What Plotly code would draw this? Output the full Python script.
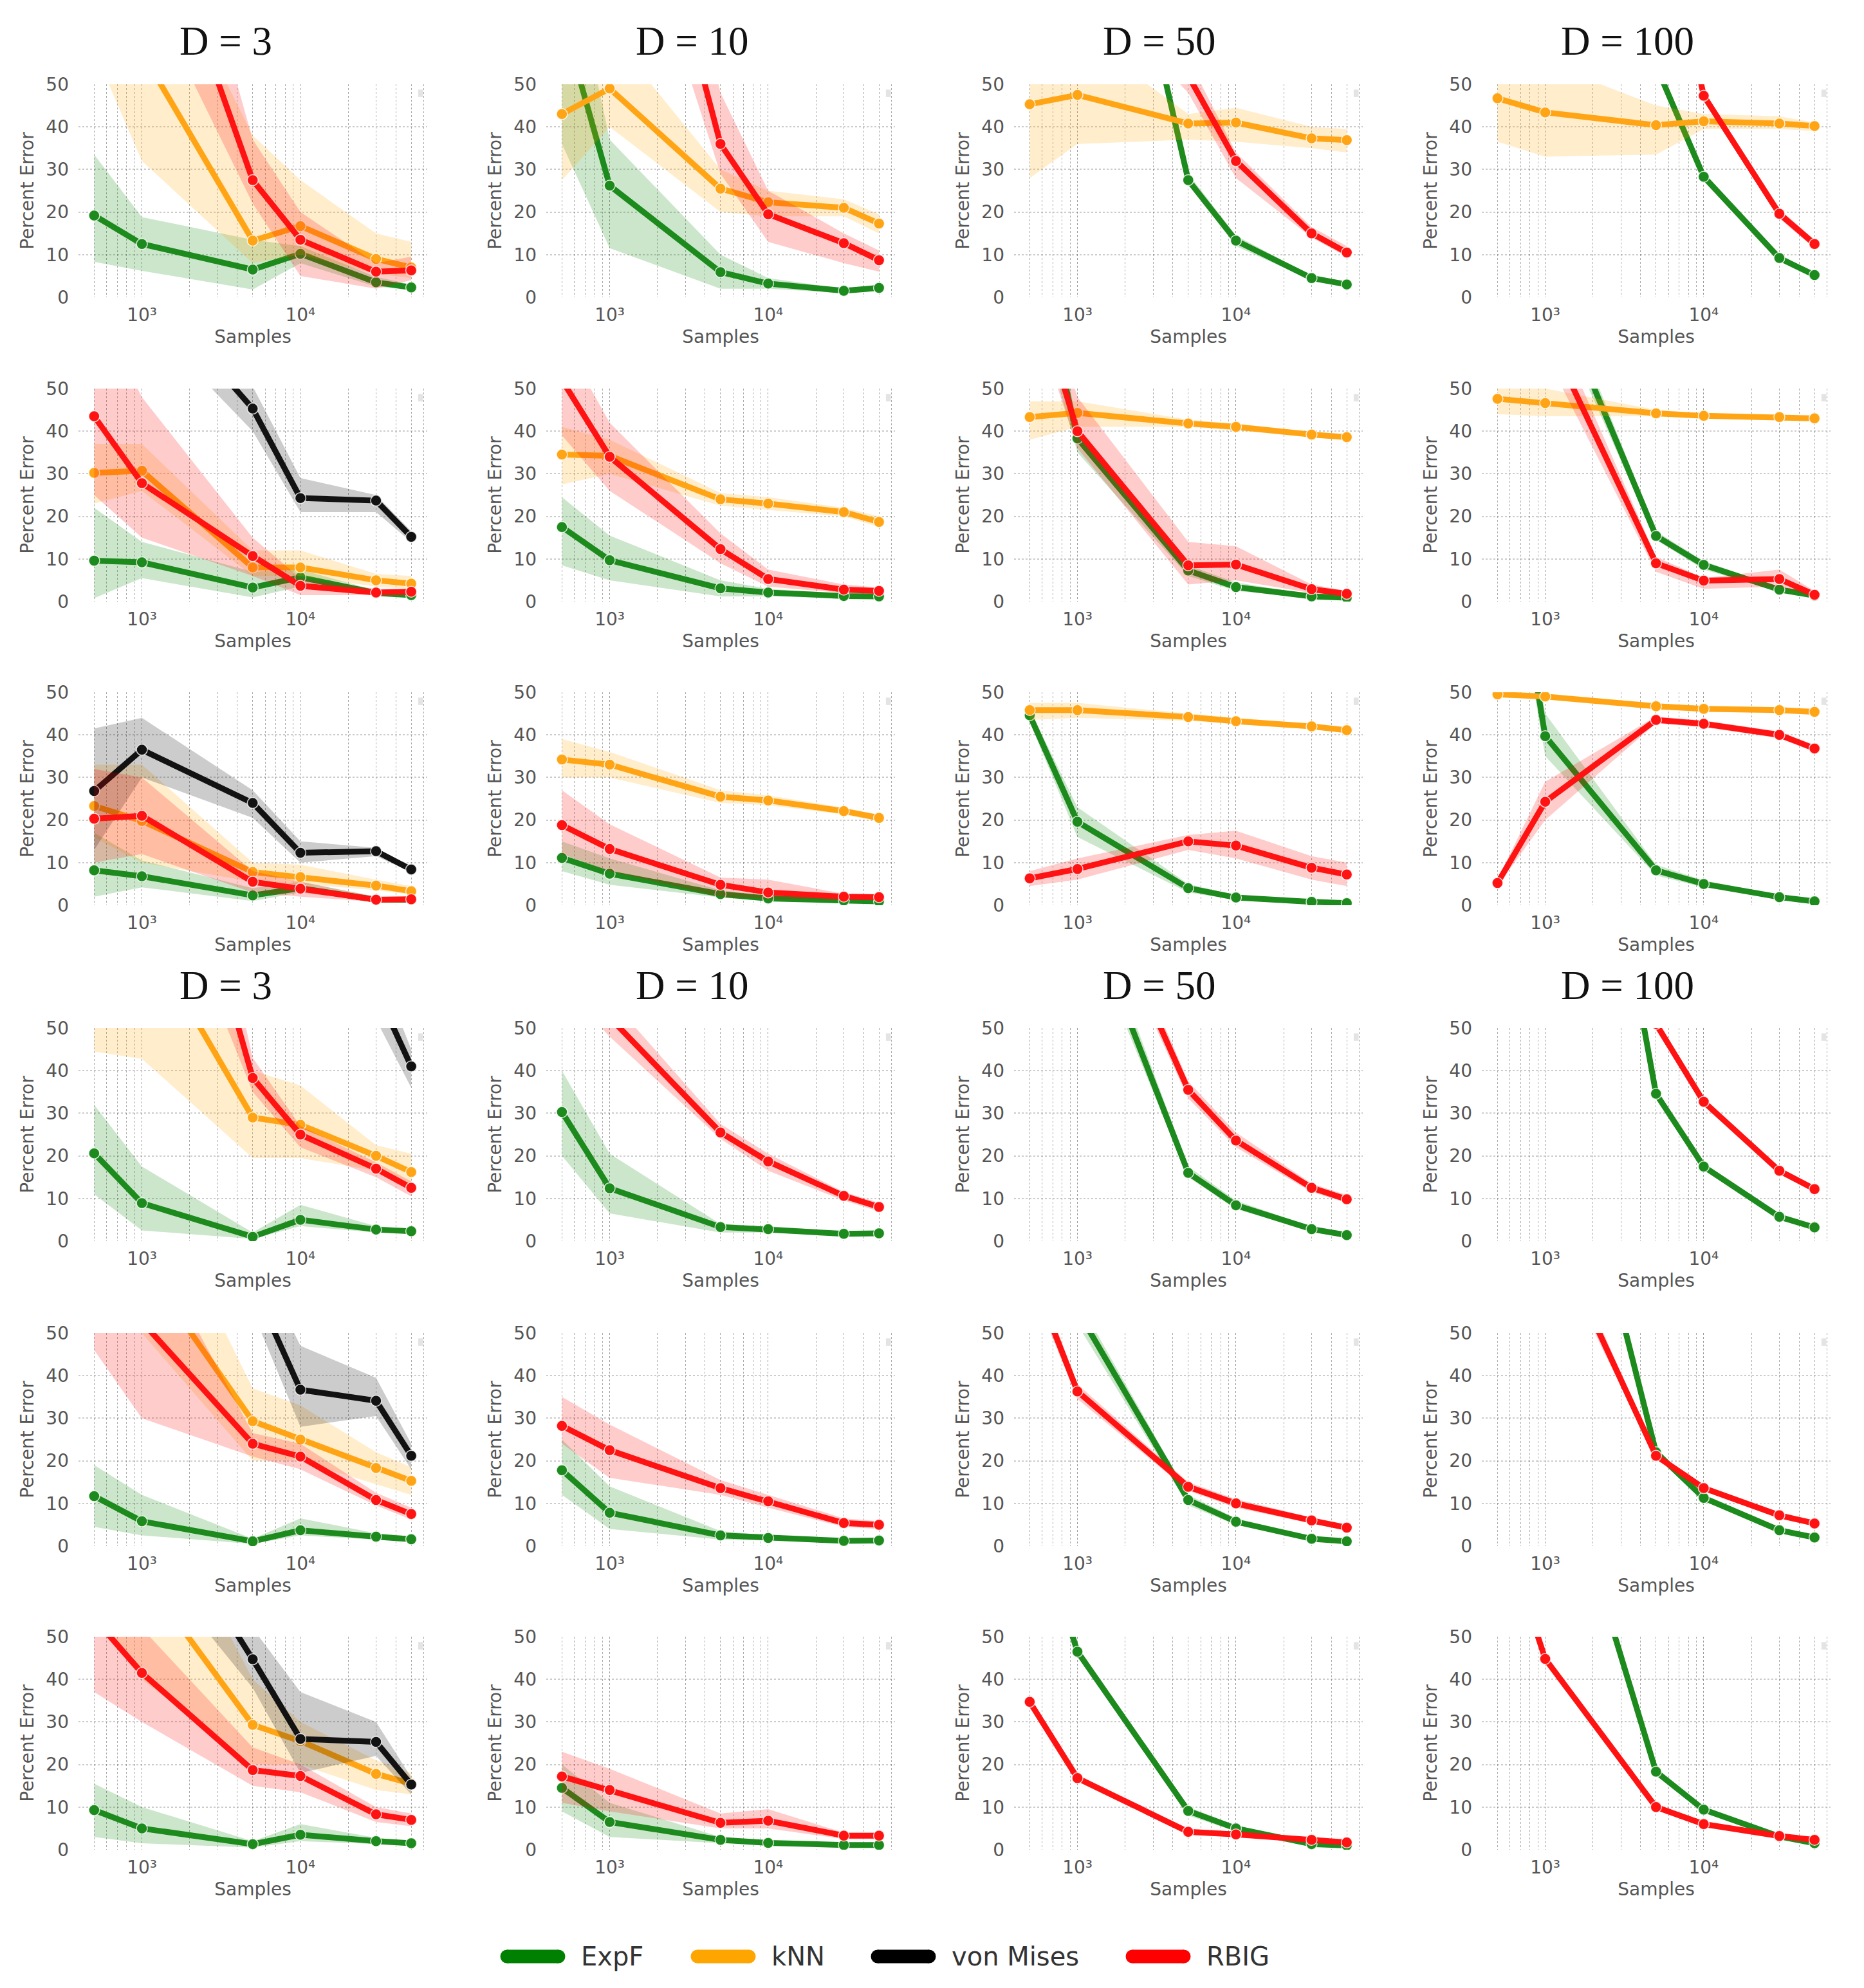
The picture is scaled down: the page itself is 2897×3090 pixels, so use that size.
import math
import plotly.graph_objects as go

# ---------------- data ----------------
SAMPLES = [500, 1000, 5000, 10000, 30000, 50000]
METHOD_KEYS = ["EXPF", "KNN", "VM", "RBIG"]
METHOD_NAMES = ["ExpF", "kNN", "von Mises", "RBIG"]
COLUMN_TITLES = ["D = 3", "D = 10", "D = 50", "D = 100"]
Y_TICKS = [0, 10, 20, 30, 40, 50]
X_TICKS = [1000, 10000]
X_TICK_TEXT = ["10³", "10⁴"]
X_MINOR = [500, 600, 700, 800, 900, 2000, 3000, 4000, 5000, 6000, 7000, 8000, 9000,
           20000, 30000, 40000, 50000, 60000]

# Row 1
R1C1_EXPF = [19.2, 12.5, 6.5, 10.2, 3.5, 2.3]
R1C1_EXPF_LO = [8.3, 6.2, 1.8, 8.0, 2.5, 1.7]
R1C1_EXPF_HI = [33.5, 18.8, 13.5, 12.0, 4.8, 3.0]
R1C1_KNN = [75, 57.5, 13.3, 16.7, 9.0, 7.0]
R1C1_KNN_LO = [58, 32, 8, 10, 5.5, 4.5]
R1C1_KNN_HI = [100, 90, 38, 27.5, 15, 13]
R1C1_RBIG = [130, 101, 27.5, 13.5, 6.0, 6.3]
R1C1_RBIG_LO = [100, 75, 22, 5, 2, 4]
R1C1_RBIG_HI = [160, 130, 37, 20, 8, 9.5]

R1C2_EXPF = [66, 26.2, 5.9, 3.2, 1.5, 2.2]
R1C2_EXPF_LO = [36, 11.5, 2, 2, 1, 1.5]
R1C2_EXPF_HI = [90, 37, 10, 4.5, 2, 3]
R1C2_KNN = [43, 49, 25.5, 22.3, 21, 17.3]
R1C2_KNN_LO = [27.5, 40, 20, 19, 19, 15]
R1C2_KNN_HI = [58, 62, 30, 25, 23, 19.5]
R1C2_RBIG = [170, 135, 36, 19.5, 12.7, 8.7]
R1C2_RBIG_LO = [140, 110, 29, 13, 8, 6]
R1C2_RBIG_HI = [200, 160, 48, 25, 15, 11]

R1C3_EXPF = [170, 141, 27.5, 13.3, 4.5, 3.0]
R1C3_EXPF_LO = [165, 136, 26.5, 12, 4, 2.5]
R1C3_EXPF_HI = [175, 146, 29, 14.5, 5, 3.5]
R1C3_KNN = [45.3, 47.5, 40.8, 41.0, 37.3, 36.9]
R1C3_KNN_LO = [28, 36, 37, 36.5, 35, 34]
R1C3_KNN_HI = [60, 62, 43, 44.5, 40, 39.5]
R1C3_RBIG = [100, 80, 52, 32.0, 15.0, 10.5]
R1C3_RBIG_LO = [95, 75, 48, 28, 14, 9.5]
R1C3_RBIG_HI = [105, 85, 56, 34, 16.5, 12]

R1C4_EXPF = [120, 100, 54.4, 28.3, 9.2, 5.2]
R1C4_EXPF_LO = [115, 95, 53, 27.5, 8.6, 4.7]
R1C4_EXPF_HI = [125, 105, 56, 29, 9.8, 5.7]
R1C4_KNN = [46.7, 43.4, 40.4, 41.3, 40.8, 40.2]
R1C4_KNN_LO = [36.5, 33, 33.5, 39.5, 39.5, 39]
R1C4_KNN_HI = [55, 55, 45, 43, 42.5, 41]
R1C4_RBIG = [150, 130, 100, 47.3, 19.6, 12.5]
R1C4_RBIG_LO = [145, 125, 95, 46, 18.5, 11.5]
R1C4_RBIG_HI = [155, 135, 105, 48.6, 20.7, 13.5]

# Row 2
R2C1_EXPF = [9.6, 9.2, 3.3, 5.7, 2.0, 1.5]
R2C1_EXPF_LO = [0.8, 5.5, 1.0, 3.5, 1.5, 1.0]
R2C1_EXPF_HI = [22, 14, 7, 7.5, 2.6, 2.0]
R2C1_KNN = [30.2, 30.7, 8.0, 8.0, 5.0, 4.2]
R2C1_KNN_LO = [23, 26, 6, 6, 3.5, 3]
R2C1_KNN_HI = [37, 37, 12, 12, 6.5, 6]
R2C1_VM = [95, 75, 45.3, 24.3, 23.7, 15.2]
R2C1_VM_LO = [80, 67, 40, 21, 21, 14]
R2C1_VM_HI = [110, 90, 50.5, 29, 25, 16.5]
R2C1_RBIG = [43.5, 27.8, 10.7, 3.7, 2.1, 2.3]
R2C1_RBIG_LO = [25, 15, 6, 1.5, 1.5, 1.5]
R2C1_RBIG_HI = [70, 48, 15, 5.5, 3, 3]

R2C2_EXPF = [17.5, 9.7, 3.1, 2.1, 1.3, 1.2]
R2C2_EXPF_LO = [8.5, 5, 1.2, 1.2, 0.8, 0.8]
R2C2_EXPF_HI = [24.5, 15.5, 5, 3, 1.8, 1.6]
R2C2_KNN = [34.5, 34.2, 24.0, 23.0, 21.0, 18.7]
R2C2_KNN_LO = [27.5, 30, 22.5, 21.5, 20, 17.5]
R2C2_KNN_HI = [41, 38, 25.5, 24.5, 22, 20]
R2C2_RBIG = [52, 34, 12.3, 5.3, 2.8, 2.5]
R2C2_RBIG_LO = [39, 26, 9, 3.5, 2, 1.8]
R2C2_RBIG_HI = [62, 42, 16, 7.5, 4, 3.3]

R2C3_EXPF = [88, 38.3, 7.3, 3.4, 1.2, 0.9]
R2C3_EXPF_LO = [75, 35, 6, 2.5, 0.8, 0.6]
R2C3_EXPF_HI = [100, 41, 8.5, 4.5, 1.6, 1.2]
R2C3_KNN = [43.3, 44.3, 41.8, 41.0, 39.2, 38.6]
R2C3_KNN_LO = [38, 41, 41, 40.2, 38.6, 38]
R2C3_KNN_HI = [47, 47, 42.7, 41.8, 39.8, 39.2]
R2C3_RBIG = [77, 40, 8.5, 8.7, 2.9, 1.8]
R2C3_RBIG_LO = [70, 36, 4, 5, 2, 1.3]
R2C3_RBIG_HI = [85, 48, 14, 13, 4, 2.5]

R2C4_EXPF = [100, 77.6, 15.4, 8.6, 2.8, 1.4]
R2C4_EXPF_LO = [95, 73, 14.5, 7.5, 2.3, 1.0]
R2C4_EXPF_HI = [105, 82, 16.5, 9.5, 3.3, 1.8]
R2C4_KNN = [47.6, 46.6, 44.2, 43.6, 43.3, 43.0]
R2C4_KNN_LO = [44, 43.5, 43.5, 43, 42.8, 42.5]
R2C4_KNN_HI = [51, 50, 45, 44.2, 43.8, 43.5]
R2C4_RBIG = [90, 64, 9, 4.9, 5.3, 1.6]
R2C4_RBIG_LO = [85, 58, 7, 3, 3.5, 1.0]
R2C4_RBIG_HI = [95, 70, 10.5, 5.5, 7.5, 2.5]

# Row 3
R3C1_EXPF = [8.2, 6.8, 2.3, 4.0, 1.3, 1.3]
R3C1_EXPF_LO = [2, 4.2, 1, 3, 0.8, 0.8]
R3C1_EXPF_HI = [17, 10.5, 4, 5.5, 2, 2]
R3C1_KNN = [23.3, 19.8, 7.8, 6.6, 4.6, 3.3]
R3C1_KNN_LO = [16, 10, 5.5, 5, 3.5, 2.5]
R3C1_KNN_HI = [33, 33, 10, 9.5, 6, 4.5]
R3C1_VM = [26.8, 36.5, 24.0, 12.3, 12.7, 8.4]
R3C1_VM_LO = [13, 30, 20.5, 10, 11.5, 7.8]
R3C1_VM_HI = [41.5, 44, 27, 15, 13.5, 9]
R3C1_RBIG = [20.3, 21.0, 5.5, 3.9, 1.3, 1.4]
R3C1_RBIG_LO = [10, 12, 3, 2, 0.8, 0.8]
R3C1_RBIG_HI = [32, 30, 8, 5.5, 2, 2]

R3C2_EXPF = [11.1, 7.4, 2.6, 1.6, 1.1, 0.9]
R3C2_EXPF_LO = [8, 4.8, 1.8, 1, 0.8, 0.6]
R3C2_EXPF_HI = [15, 11, 3.5, 2.3, 1.4, 1.2]
R3C2_KNN = [34.2, 33.0, 25.5, 24.6, 22.1, 20.5]
R3C2_KNN_LO = [30, 30, 24, 23.5, 21.3, 19.7]
R3C2_KNN_HI = [39, 36, 27, 25.8, 22.9, 21.3]
R3C2_RBIG = [18.8, 13.2, 4.8, 3.0, 2.0, 1.9]
R3C2_RBIG_LO = [12, 8, 2, 1.5, 1.3, 1.3]
R3C2_RBIG_HI = [27, 19, 6.5, 6, 2.7, 2.5]

R3C3_EXPF = [44.6, 19.6, 4.0, 1.8, 0.8, 0.5]
R3C3_EXPF_LO = [43, 16, 3, 1.3, 0.5, 0.3]
R3C3_EXPF_HI = [46, 23, 5, 2.3, 1.1, 0.8]
R3C3_KNN = [45.8, 45.8, 44.2, 43.2, 42.0, 41.1]
R3C3_KNN_LO = [43.5, 44, 43.3, 42.5, 41.4, 40.5]
R3C3_KNN_HI = [47.5, 47.5, 45, 44, 42.6, 41.7]
R3C3_RBIG = [6.3, 8.5, 15.0, 14.0, 8.8, 7.2]
R3C3_RBIG_LO = [4.5, 6, 13, 11, 6, 4.5]
R3C3_RBIG_HI = [8, 11, 16.5, 17.5, 11.5, 10]

R3C4_EXPF = [108, 39.7, 8.2, 5.0, 1.9, 0.9]
R3C4_EXPF_LO = [100, 35, 7, 4.2, 1.5, 0.6]
R3C4_EXPF_HI = [115, 45, 9.5, 5.8, 2.4, 1.3]
R3C4_KNN = [49.5, 49.0, 46.7, 46.1, 45.8, 45.4]
R3C4_KNN_LO = [48.8, 48.3, 46, 45.4, 45.1, 44.7]
R3C4_KNN_HI = [50.2, 49.7, 47.4, 46.8, 46.5, 46.1]
R3C4_RBIG = [5.2, 24.3, 43.5, 42.6, 40.0, 36.8]
R3C4_RBIG_LO = [4.5, 20, 42.7, 41.8, 39.2, 36]
R3C4_RBIG_HI = [6, 29, 44.3, 43.4, 40.8, 37.6]

# Row 4
R4C1_EXPF = [20.6, 8.9, 1.0, 5.0, 2.7, 2.3]
R4C1_EXPF_LO = [11, 2.5, 0.5, 3.5, 2, 1.8]
R4C1_EXPF_HI = [32, 17.5, 2, 8.5, 3.5, 2.8]
R4C1_KNN = [90, 73.6, 29.0, 27.3, 20.0, 16.2]
R4C1_KNN_LO = [44.5, 42.8, 19.5, 19.5, 16.5, 13]
R4C1_KNN_HI = [120, 100, 40, 36.5, 22.5, 20.5]
R4C1_VM = [150, 130, 110, 90, 59, 41]
R4C1_VM_LO = [140, 120, 100, 80, 52, 36]
R4C1_VM_HI = [160, 140, 120, 100, 66, 45]
R4C1_RBIG = [160, 130, 38.3, 25.0, 17.0, 12.5]
R4C1_RBIG_LO = [130, 100, 35, 22, 15, 10.5]
R4C1_RBIG_HI = [190, 160, 43, 27, 18.5, 14]

R4C2_EXPF = [30.3, 12.4, 3.3, 2.8, 1.7, 1.8]
R4C2_EXPF_LO = [20, 6.5, 2, 2, 1.2, 1.2]
R4C2_EXPF_HI = [40, 20.5, 4, 3.5, 2.2, 2.4]
R4C2_RBIG = [65, 52.5, 25.5, 18.7, 10.6, 8.0]
R4C2_RBIG_LO = [60, 48, 24, 16.5, 9.5, 7]
R4C2_RBIG_HI = [70, 57, 27.5, 20.5, 11.5, 9]

R4C3_EXPF = [110, 83, 16.0, 8.4, 2.8, 1.4]
R4C3_EXPF_LO = [105, 78, 15, 7.5, 2.3, 1.0]
R4C3_EXPF_HI = [115, 88, 17.5, 9.5, 3.3, 1.8]
R4C3_RBIG = [120, 94, 35.5, 23.6, 12.5, 9.8]
R4C3_RBIG_LO = [115, 90, 33.5, 22, 11.5, 9]
R4C3_RBIG_HI = [125, 98, 37.5, 25.5, 13.5, 10.8]

R4C4_EXPF = [200, 178, 34.6, 17.5, 5.7, 3.2]
R4C4_EXPF_LO = [195, 173, 33.5, 16.7, 5.2, 2.8]
R4C4_EXPF_HI = [205, 183, 35.7, 18.3, 6.2, 3.6]
R4C4_RBIG = [130, 100, 51, 32.7, 16.5, 12.2]
R4C4_RBIG_LO = [125, 95, 49.5, 32, 15.8, 11.5]
R4C4_RBIG_HI = [135, 105, 52.5, 33.4, 17.2, 12.9]

# Row 5
R5C1_EXPF = [11.7, 5.8, 1.1, 3.7, 2.2, 1.6]
R5C1_EXPF_LO = [4.5, 2.5, 0.5, 2.5, 1.5, 1]
R5C1_EXPF_HI = [19, 12, 1.7, 6.5, 3, 2.3]
R5C1_KNN = [85, 66.5, 29.3, 25.0, 18.3, 15.3]
R5C1_KNN_LO = [60, 50, 20, 20, 14.5, 12]
R5C1_KNN_HI = [110, 90, 37, 33, 22, 18.5]
R5C1_VM = [120, 90, 61.6, 36.7, 34.1, 21.2]
R5C1_VM_LO = [100, 75, 55, 28, 30.5, 18]
R5C1_VM_HI = [140, 105, 70, 47, 39.5, 24]
R5C1_RBIG = [65, 52.6, 24.0, 21.0, 10.8, 7.5]
R5C1_RBIG_LO = [46, 30, 21, 18, 9.5, 6.2]
R5C1_RBIG_HI = [85, 75, 26.5, 24, 12.5, 9]

R5C2_EXPF = [17.8, 7.8, 2.5, 1.9, 1.2, 1.3]
R5C2_EXPF_LO = [12, 4, 1.5, 1.3, 0.8, 0.8]
R5C2_EXPF_HI = [25, 14, 3.5, 2.5, 1.6, 1.7]
R5C2_RBIG = [28.2, 22.5, 13.6, 10.5, 5.4, 5.0]
R5C2_RBIG_LO = [24, 16, 12, 9, 4.5, 4]
R5C2_RBIG_HI = [35, 28.5, 15.5, 12, 6.5, 5.8]

R5C3_EXPF = [75, 55.3, 10.8, 5.7, 1.7, 1.1]
R5C3_EXPF_LO = [72, 52, 9.5, 5, 1.3, 0.8]
R5C3_EXPF_HI = [78, 58, 12, 6.5, 2.2, 1.4]
R5C3_RBIG = [65, 36.3, 13.9, 10.0, 6.0, 4.3]
R5C3_RBIG_LO = [62, 34.5, 13, 9, 5.3, 3.7]
R5C3_RBIG_HI = [68, 38, 15, 11, 6.7, 5]

R5C4_EXPF = [150, 125, 22.0, 11.3, 3.7, 2.0]
R5C4_EXPF_LO = [145, 120, 21, 10.6, 3.3, 1.7]
R5C4_EXPF_HI = [155, 130, 23, 12, 4.1, 2.3]
R5C4_RBIG = [100, 77.5, 21.2, 13.6, 7.2, 5.3]
R5C4_RBIG_LO = [95, 74, 20.4, 13, 6.7, 4.9]
R5C4_RBIG_HI = [105, 81, 22, 14.2, 7.7, 5.7]

# Row 6
R6C1_EXPF = [9.3, 5.0, 1.3, 3.5, 2.0, 1.5]
R6C1_EXPF_LO = [3, 1.5, 0.5, 2, 1.3, 1]
R6C1_EXPF_HI = [15.5, 10, 2, 6, 2.8, 2]
R6C1_KNN = [80, 64.6, 29.3, 25.5, 17.8, 15.5]
R6C1_KNN_LO = [55, 40, 20, 20, 14, 13]
R6C1_KNN_HI = [105, 90, 40, 30, 21, 18]
R6C1_VM = [110, 86, 44.7, 26.0, 25.3, 15.3]
R6C1_VM_LO = [95, 70, 38, 18, 22, 13]
R6C1_VM_HI = [125, 100, 52, 37, 30, 17]
R6C1_RBIG = [54.3, 41.5, 18.7, 17.3, 8.3, 7.0]
R6C1_RBIG_LO = [37, 30, 15, 13.5, 6.5, 5.5]
R6C1_RBIG_HI = [70, 52, 24, 20, 10, 8.5]

R6C2_EXPF = [14.5, 6.5, 2.3, 1.6, 1.1, 1.1]
R6C2_EXPF_LO = [9, 3, 1.5, 1.2, 0.8, 0.8]
R6C2_EXPF_HI = [20, 11, 3, 2, 1.4, 1.4]
R6C2_RBIG = [17.2, 14.0, 6.3, 6.8, 3.3, 3.3]
R6C2_RBIG_LO = [11, 9, 5, 5, 2.5, 2.5]
R6C2_RBIG_HI = [23, 19, 8.5, 9.5, 4, 4]

R6C3_EXPF = [81.6, 46.5, 9.1, 5.0, 1.3, 1.0]
R6C3_EXPF_LO = [78, 45.5, 8, 4.3, 1, 0.7]
R6C3_EXPF_HI = [85, 47.5, 10, 5.7, 1.7, 1.3]
R6C3_RBIG = [34.7, 16.8, 4.2, 3.6, 2.3, 1.7]
R6C3_RBIG_LO = [33.9, 16, 3.5, 3, 1.8, 1.2]
R6C3_RBIG_HI = [35.5, 17.6, 4.9, 4.2, 2.8, 2.2]

R6C4_EXPF = [130, 104, 18.3, 9.4, 3.1, 1.5]
R6C4_EXPF_LO = [126, 100, 17.5, 8.7, 2.7, 1.2]
R6C4_EXPF_HI = [134, 108, 19.1, 10.1, 3.5, 1.8]
R6C4_RBIG = [79, 44.8, 10.0, 6.0, 3.2, 2.3]
R6C4_RBIG_LO = [76, 44, 9.3, 5.4, 2.7, 1.8]
R6C4_RBIG_HI = [82, 45.6, 10.7, 6.6, 3.7, 2.8]

# ---------------- style ----------------
LINE_COLORS = {"EXPF": "#1c8a1c", "KNN": "#ffa515", "VM": "#121212", "RBIG": "#ff1212"}
FILL_COLORS = {"EXPF": "rgba(0,128,0,0.2)", "KNN": "rgba(255,165,0,0.2)",
               "VM": "rgba(0,0,0,0.2)", "RBIG": "rgba(255,0,0,0.2)"}
LEGEND_COLORS = {"EXPF": "#008000", "KNN": "#ffa500", "VM": "#000000", "RBIG": "#ff0000"}

W, H = 2897, 3090
OFF = 8  # page body margin of the html page
COL_PX = [(122, 664), (849, 1391), (1576, 2118), (2303, 2845)]
ROW_PX = [(131, 462), (604, 935), (1076, 1407), (1598, 1929), (2072, 2403), (2544, 2875)]
TITLE_X_PX = [351, 1076, 1802, 2529]
TITLE_Y_PX = [64, 1532]
LEGEND_SYMBOL_X_PX = [778, 1074, 1354, 1750]
LEGEND_Y_PX = 3041


def px_x(p):
    return (p - OFF) / W


def px_y(p):
    return 1 - (p - OFF) / H


TICK_FONT = dict(family="DejaVu Sans", size=28, color="#555555")

fig = go.Figure()
layout_axes = {}
shapes = []

for r in range(6):
    for c in range(4):
        idx = r * 4 + c + 1
        xname = "x" if idx == 1 else f"x{idx}"
        yname = "y" if idx == 1 else f"y{idx}"
        prefix = f"R{r + 1}C{c + 1}"
        for key in METHOD_KEYS:
            mean = globals().get(f"{prefix}_{key}")
            if mean is None:
                continue
            lo = globals()[f"{prefix}_{key}_LO"]
            hi = globals()[f"{prefix}_{key}_HI"]
            fig.add_trace(go.Scatter(
                x=SAMPLES + SAMPLES[::-1], y=hi + lo[::-1],
                fill="toself", fillcolor=FILL_COLORS[key], mode="lines",
                line=dict(width=0), hoverinfo="skip", showlegend=False,
                xaxis=xname, yaxis=yname))
            fig.add_trace(go.Scatter(
                x=SAMPLES, y=mean, mode="lines+markers",
                line=dict(color=LINE_COLORS[key], width=9),
                marker=dict(size=17, color=LINE_COLORS[key],
                            line=dict(color="rgba(255,255,255,0.8)", width=1.5)),
                showlegend=False, xaxis=xname, yaxis=yname))

        x0, x1 = COL_PX[c]
        y0, y1 = ROW_PX[r]
        xk = "xaxis" if idx == 1 else f"xaxis{idx}"
        yk = "yaxis" if idx == 1 else f"yaxis{idx}"
        layout_axes[xk] = dict(
            domain=[px_x(x0), px_x(x1)], anchor=yname, type="log", automargin=False,
            range=[2.6, 4.8], tickvals=X_TICKS, ticktext=X_TICK_TEXT,
            ticks="", tickfont=TICK_FONT,
            showgrid=True, gridcolor="rgba(50,50,50,0.5)", griddash="dot", gridwidth=1.2,
            minor=dict(tickvals=X_MINOR, showgrid=True, gridcolor="rgba(50,50,50,0.42)",
                       griddash="dot", gridwidth=1.1, ticks=""),
            showline=False, zeroline=False, ticklabelstandoff=8,
            title=dict(text="Samples", font=TICK_FONT, standoff=8))
        layout_axes[yk] = dict(
            domain=[px_y(y1), px_y(y0)], anchor=xname, range=[0, 50], automargin=False,
            tickvals=Y_TICKS, ticks="", tickfont=TICK_FONT,
            showgrid=True, gridcolor="rgba(110,110,110,0.35)", griddash="dot", gridwidth=1.5,
            showline=False, zeroline=False, ticklabelstandoff=14,
            title=dict(text="Percent Error", font=TICK_FONT, standoff=10))
        shapes.append(dict(type="rect", xref=f"{xname} domain", yref=f"{yname} domain",
                           x0=0.974, x1=0.988, y0=0.94, y1=0.975,
                           fillcolor="rgba(210,210,210,0.6)", line=dict(width=0)))

annotations = []
for ty in TITLE_Y_PX:
    for tx, t in zip(TITLE_X_PX, COLUMN_TITLES):
        annotations.append(dict(text=t, x=px_x(tx), y=px_y(ty), xref="paper", yref="paper",
                                xanchor="center", yanchor="middle", showarrow=False,
                                font=dict(family="Liberation Serif", size=63, color="#111111")))

# legend (drawn as rounded swatches + text)
ly = px_y(LEGEND_Y_PX)
for key, name, sx in zip(METHOD_KEYS, METHOD_NAMES, LEGEND_SYMBOL_X_PX):
    col = LEGEND_COLORS[key]
    ax = px_x(sx)
    shapes.append(dict(type="rect", xref="paper", yref="paper", xsizemode="pixel",
                       ysizemode="pixel", xanchor=ax, yanchor=ly, x0=10, x1=90, y0=-10.5, y1=10.5,
                       fillcolor=col, line=dict(width=0)))
    for cx in (10, 90):
        shapes.append(dict(type="circle", xref="paper", yref="paper", xsizemode="pixel",
                           ysizemode="pixel", xanchor=ax, yanchor=ly,
                           x0=cx - 10.5, x1=cx + 10.5, y0=-10.5, y1=10.5,
                           fillcolor=col, line=dict(width=0)))
    annotations.append(dict(text=name, x=px_x(sx + 123), y=ly, xref="paper", yref="paper",
                            xanchor="left", yanchor="middle", showarrow=False,
                            font=dict(family="DejaVu Sans", size=40, color="#333333")))

fig.update_layout(
    width=W, height=H, margin=dict(l=0, r=0, t=0, b=0, autoexpand=False),
    paper_bgcolor="white", plot_bgcolor="white",
    annotations=annotations, shapes=shapes,
    showlegend=False,
    **layout_axes)

fig.write_html("out.html")
